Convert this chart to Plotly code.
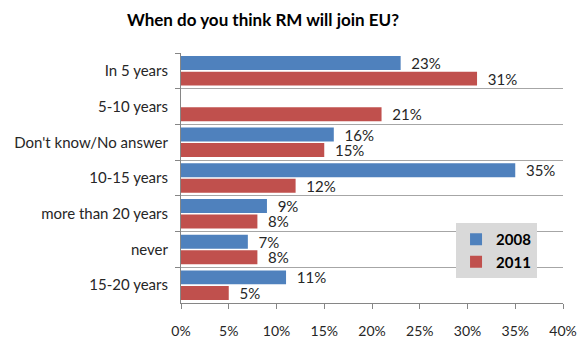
import plotly.graph_objects as go

# Survey answers, listed top to bottom
categories = [
    "In 5 years",
    "5-10 years",
    "Don't know/No answer",
    "10-15 years",
    "more than 20 years",
    "never",
    "15-20 years",
]
values_2008 = [23, None, 16, 35, 9, 7, 11]
values_2011 = [31, 21, 15, 12, 8, 8, 5]
x_ticks = [0, 5, 10, 15, 20, 25, 30, 35, 40]
x_tick_labels = [f"{t}%" for t in x_ticks]

FONT = "Lato, 'Open Sans', sans-serif"
TEXT = "#262626"
AXIS = "#868686"

fig = go.Figure()
for name, vals, color in [
    ("2008", values_2008, "#4F81BD"),
    ("2011", values_2011, "#C0504D"),
]:
    labels = ["" if v is None else f"\u00a0\u00a0{v}%" for v in vals]
    fig.add_trace(go.Bar(
        y=categories,
        x=vals,
        name=name,
        legendgroup=name,
        orientation="h",
        marker=dict(color=color, line=dict(width=0)),
        text=labels,
        texttemplate="%{text}",
        textposition="outside",
        constraintext="none",
        textfont=dict(family=FONT, size=15, color=TEXT),
        cliponaxis=False,
    ))

fig.update_layout(
    width=578,
    height=338,
    margin=dict(l=181, r=15, t=53, b=35),
    paper_bgcolor="white",
    plot_bgcolor="white",
    barmode="group",
    bargap=0.13,
    bargroupgap=0.1,
    title=dict(
        text="<b>When do you think RM will join EU?</b>",
        x=0.455, xref="container", xanchor="center",
        y=0.94, yref="container", yanchor="middle",
        font=dict(family=FONT, size=17, color="black"),
    ),
    font=dict(family=FONT, size=13, color=TEXT),
    showlegend=True,
    legend=dict(
        x=0.826, y=0.32, xanchor="center", yanchor="top",
        bgcolor="#D9D9D9",
        font=dict(family=FONT, size=15, color="black", weight="bold"),
        tracegroupgap=26,
        itemwidth=30,
        traceorder="normal",
    ),
    xaxis=dict(
        range=[0, 40],
        tickvals=x_ticks,
        ticktext=x_tick_labels,
        showgrid=False,
        zeroline=False,
        showline=True,
        linecolor=AXIS,
        linewidth=1,
        ticks="outside",
        ticklen=5,
        tickcolor=AXIS,
        ticklabelstandoff=10,
        tickfont=dict(family=FONT, size=14, color=TEXT),
        automargin=False,
        fixedrange=True,
    ),
    yaxis=dict(
        autorange="reversed",
        tickson="boundaries",
        showgrid=True,
        gridcolor="#A6A6A6",
        gridwidth=1,
        showline=True,
        linecolor=AXIS,
        linewidth=1,
        ticks="outside",
        ticklen=5,
        tickcolor=AXIS,
        ticklabelstandoff=9,
        tickfont=dict(family=FONT, size=15, color=TEXT),
        automargin=False,
        fixedrange=True,
    ),
)

fig.write_html("out.html")
